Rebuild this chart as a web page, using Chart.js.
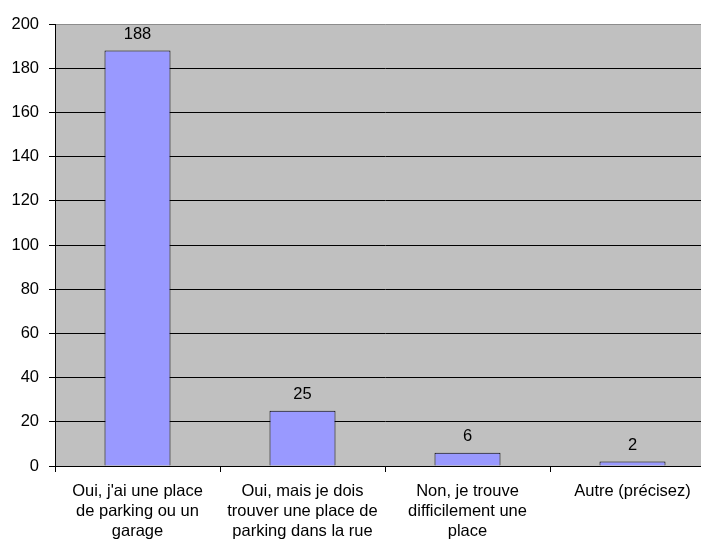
<!DOCTYPE html>
<html>
<head>
<meta charset="utf-8">
<script src="https://cdn.jsdelivr.net/npm/chart.js@4"></script>
<style>
    html, body { margin: 0; padding: 0; background: #fff; overflow: hidden; }
    #wrap { width: 716px; height: 545px; }
</style>
</head>
<body>
<div id="wrap"><canvas id="myChart" width="716" height="545"></canvas></div>
<script>
var categories = [
    ["Oui, j'ai une place", "de parking ou un", "garage"],
    ["Oui, mais je dois", "trouver une place de", "parking dans la rue"],
    ["Non, je trouve", "difficilement une", "place"],
    ["Autre (précisez)"]
];
var counts = [188, 25, 6, 2];
var yTicks = [0, 20, 40, 60, 80, 100, 120, 140, 160, 180, 200];

var plotBackground = {
    id: 'plotBackground',
    beforeDraw: function (chart) {
        var ctx = chart.ctx, a = chart.chartArea;
        ctx.save();
        ctx.fillStyle = '#C0C0C0';
        ctx.fillRect(a.left, a.top, a.right - a.left, a.bottom - a.top);
        ctx.restore();
    }
};

var valueLabels = {
    id: 'valueLabels',
    afterDatasetsDraw: function (chart) {
        var ctx = chart.ctx;
        var meta = chart.getDatasetMeta(0);
        ctx.save();
        ctx.font = '16.5px "Liberation Sans", Arial, sans-serif';
        ctx.fillStyle = '#000';
        ctx.textAlign = 'center';
        ctx.textBaseline = 'bottom';
        meta.data.forEach(function (bar, i) {
            ctx.fillText(String(counts[i]), bar.x, bar.y - 8);
        });
        ctx.restore();
    }
};

new Chart("myChart", {
    type: 'bar',
    data: {
        labels: categories,
        datasets: [{
            data: counts,
            backgroundColor: '#9999FF',
            borderColor: '#000000',
            borderWidth: 1,
            barPercentage: 0.4,
            categoryPercentage: 1.0
        }]
    },
    options: {
        responsive: false,
        animation: false,
        layout: { padding: { top: 24, right: 1, left: 0, bottom: 0 } },
        plugins: {
            legend: { display: false },
            tooltip: { enabled: false }
        },
        scales: {
            x: {
                afterFit: function (scale) { scale.height = 79; },
                grid: {
                    offset: true,
                    drawOnChartArea: false,
                    drawTicks: true,
                    tickLength: 6,
                    color: '#000'
                },
                border: { display: true, color: '#000', width: 1 },
                ticks: {
                    color: '#000',
                    padding: 9,
                    maxRotation: 0,
                    autoSkip: false,
                    font: { family: '"Liberation Sans", Arial, sans-serif', size: 16.5, lineHeight: 1.22 }
                }
            },
            y: {
                min: 0,
                max: 200,
                afterFit: function (scale) { scale.width = 55; },
                afterBuildTicks: function (scale) {
                    scale.ticks = yTicks.map(function (v) { return { value: v }; });
                },
                grid: {
                    color: function (c) { return c.tick && c.tick.value === 200 ? '#8C8C8C' : '#000'; },
                    tickColor: '#000',
                    tickLength: 6,
                    lineWidth: 1
                },
                border: { display: true, color: '#000', width: 1 },
                ticks: {
                    color: '#000',
                    padding: 10,
                    font: { family: '"Liberation Sans", Arial, sans-serif', size: 16.5 }
                }
            }
        }
    },
    plugins: [plotBackground, valueLabels]
});
</script>
</body>
</html>
